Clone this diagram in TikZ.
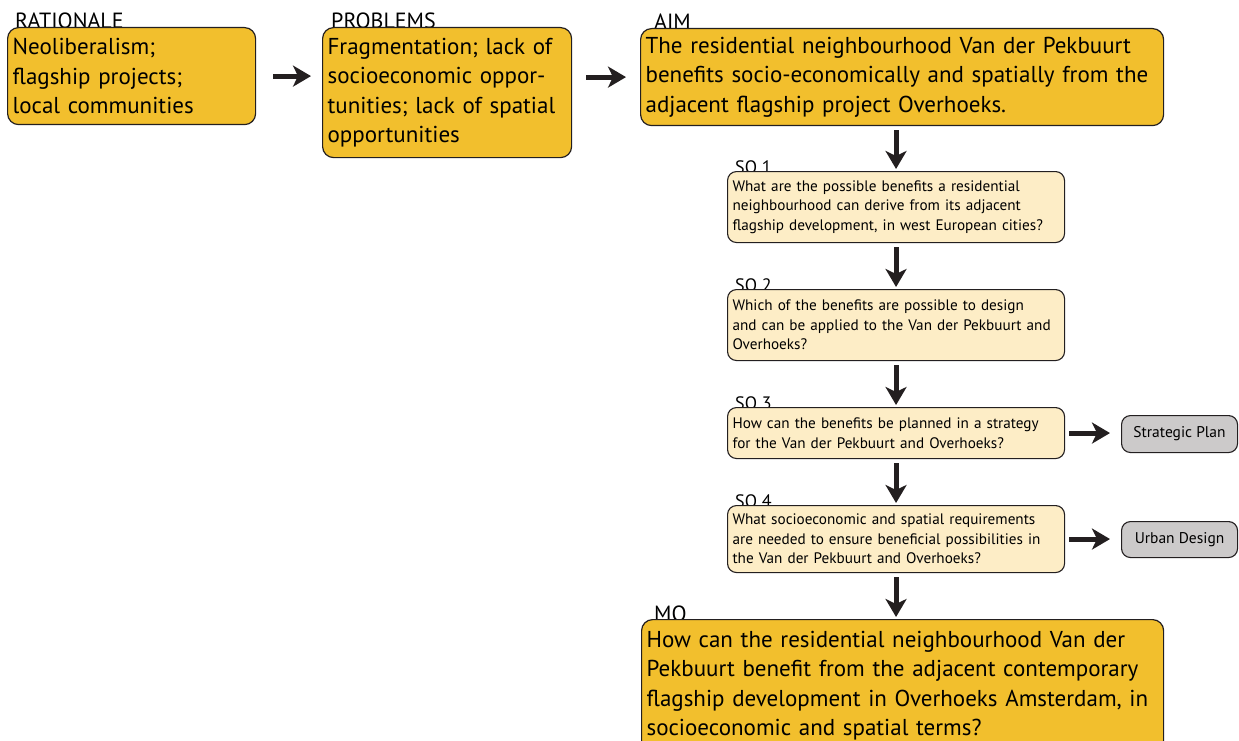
\documentclass[tikz,border=0pt]{standalone}
\usepackage{fontspec}
\setmainfont{PT Sans}
\usetikzlibrary{arrows.meta}

\definecolor{aimgold}{RGB}{242,191,45}
\definecolor{sqcream}{RGB}{253,237,198}
\definecolor{outgray}{RGB}{204,202,202}
\definecolor{inkline}{RGB}{35,31,32}

\begin{document}
\begin{tikzpicture}[x=1pt, y=-1pt,
            bigbox/.style={draw=inkline, line width=1.2pt, fill=aimgold, rounded corners=11pt,
              anchor=north west, align=left, inner xsep=5pt, inner ysep=0pt,
              font=\fontsize{23}{29.5}\selectfont},
            sqbox/.style={draw=inkline, line width=1.1pt, fill=sqcream, rounded corners=9pt,
              anchor=north west, align=left, inner xsep=5pt, inner ysep=0pt,
              font=\fontsize{15.2}{19.5}\selectfont},
            outbox/.style={draw=inkline, line width=1.1pt, fill=outgray, rounded corners=9pt,
              anchor=north west, align=center, inner sep=0pt, font=\fontsize{15.5}{17}\selectfont},
            tag/.style={anchor=base west, inner sep=0pt, font=\fontsize{22}{22}\selectfont},
            sqtag/.style={anchor=base west, inner sep=0pt, font=\fontsize{18}{18}\selectfont},
            arrow/.style={-{Stealth[length=18pt, width=21pt, inset=5pt]}, line width=5pt, draw=inkline}
        ]
        \useasboundingbox (0,0) rectangle (1239,741);

        % --- labels (drawn first, boxes overlap them) ---
        \node[tag] (ratlbl) at (15, 29) {RATIONALE};
        \node[tag] (problbl) at (331, 29) {PROBLEMS};
        \node[tag] (aimlbl) at (654, 30) {AIM};
        \node[sqtag] (sq1lbl) at (735, 173) {SQ 1};
        \node[sqtag] (sq2lbl) at (735, 291) {SQ 2};
        \node[sqtag] (sq3lbl) at (735, 409) {SQ 3};
        \node[sqtag] (sq4lbl) at (735, 507) {SQ 4};
        \node[tag] (mqlbl) at (654, 621) {MQ};

        % --- top row ---
        \node[bigbox, text width=238pt, minimum height=97pt] (rational) at (7, 27)
          {Neoliberalism;\\flagship projects;\\local communities};
        \node[bigbox, text width=239pt, minimum height=130pt] (problems) at (322, 27)
          {Fragmentation; lack of\\socioeconomic oppor-\\tunities; lack of spatial\\opportunities};
        \node[bigbox, text width=513pt, minimum height=97pt] (aim) at (640, 28)
          {The residential neighbourhood Van der Pekbuurt\\benefits socio-economically and spatially from the\\adjacent flagship project Overhoeks.};

        % --- sub questions ---
        \node[sqbox, text width=327pt, minimum height=71pt] (sq1) at (727, 171)
          {What are the possible benefits a residential\\neighbourhood can derive from its adjacent\\flagship development, in west European cities?};
        \node[sqbox, text width=327pt, minimum height=71pt] (sq2) at (727, 289)
          {Which of the benefits are possible to design\\and can be applied to the Van der Pekbuurt and\\Overhoeks?};
        \node[sqbox, text width=327pt, minimum height=51pt] (sq3) at (727, 407)
          {How can the benefits be planned in a strategy\\for the Van der Pekbuurt and Overhoeks?};
        \node[sqbox, text width=327pt, minimum height=67pt] (sq4) at (727, 505)
          {What socioeconomic and spatial requirements\\are needed to ensure beneficial possibilities in\\the Van der Pekbuurt and Overhoeks?};

        % --- outcomes ---
        \node[outbox, minimum width=116pt, minimum height=37pt] (strat) at (1121, 415) {Strategic Plan};
        \node[outbox, minimum width=116pt, minimum height=36pt] (urban) at (1121, 521) {Urban Design};

        % --- main question ---
        \node[bigbox, text width=512pt, minimum height=132pt, anchor=north west] (mq) at (641, 619)
          {How can the residential neighbourhood Van der\\Pekbuurt benefit from the adjacent contemporary\\flagship development in Overhoeks Amsterdam, in\\socioeconomic and spatial terms?};

        % --- arrows ---
        \draw[arrow, shorten <=17pt, shorten >=11pt] (rational.east) -- (rational.east -| problems.west);
        \draw[arrow, shorten <=14pt, shorten >=14pt] (problems.east |- aim.west) -- (aim.west);
        \draw[arrow, shorten <=4pt, shorten >=2pt] (sq1.north |- aim.south) -- (sq1.north);
        \draw[arrow, shorten <=4pt, shorten >=2pt] (sq1.south) -- (sq2.north);
        \draw[arrow, shorten <=4pt, shorten >=2pt] (sq2.south) -- (sq3.north);
        \draw[arrow, shorten <=4pt, shorten >=2pt] (sq3.south) -- (sq4.north);
        \draw[arrow, shorten <=4pt, shorten >=2pt] (sq4.south) -- (sq4.south |- mq.north);
        \draw[arrow, shorten <=4pt, shorten >=11pt] (sq3.east) -- (sq3.east -| strat.west);
        \draw[arrow, shorten <=4pt, shorten >=11pt] (sq4.east) -- (sq4.east -| urban.west);
        \end{tikzpicture}
\end{document}
